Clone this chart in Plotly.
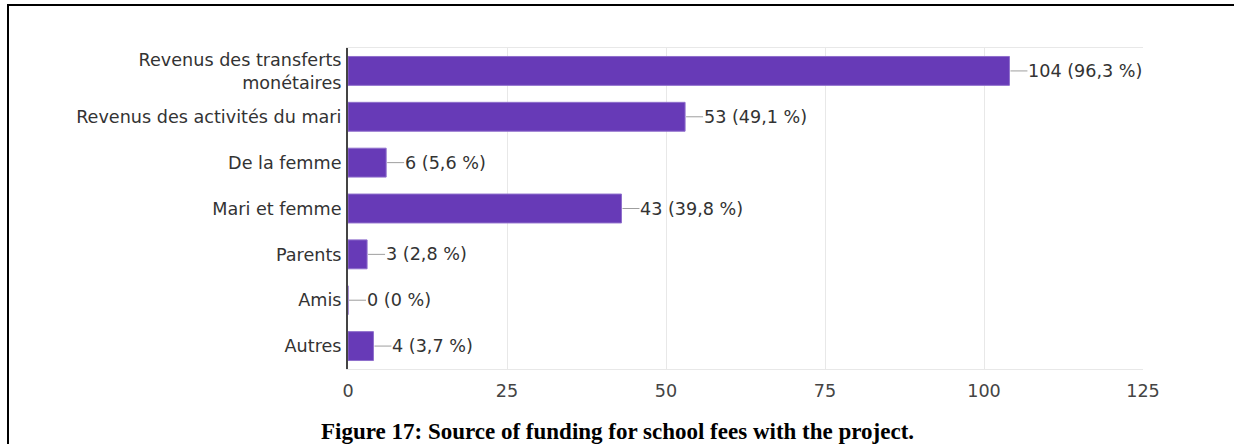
import plotly.graph_objects as go

# Survey answers: where the money for school fees comes from
categories = [
    "Revenus des transferts<br>monétaires",
    "Revenus des activités du mari",
    "De la femme",
    "Mari et femme",
    "Parents",
    "Amis",
    "Autres",
]
counts = [104, 53, 6, 43, 3, 0, 4]
percents = ["96,3", "49,1", "5,6", "39,8", "2,8", "0", "3,7"]
x_ticks = [0, 25, 50, 75, 100, 125]

caption = "Figure 17: Source of funding for school fees with the project."

BAR = "#673ab7"
TEXT = "#333333"
FONT = "DejaVu Sans"
FS = 17.6

W, H = 1234, 444
M_L, M_R, M_T, M_B = 348, 91, 48, 75
PW, PH = W - M_L - M_R, H - M_T - M_B


def px_x(px):
    """Horizontal page pixel -> paper coordinate."""
    return (px - M_L) / PW


def px_y(py):
    """Vertical page pixel (from top) -> paper coordinate."""
    return (H - M_B - py) / PH


positions = list(range(len(categories)))

fig = go.Figure(
    go.Bar(
        x=counts,
        y=positions,
        orientation="h",
        width=0.63,
        marker=dict(color=BAR, line=dict(color="#8f6fcc", width=1)),
        hoverinfo="skip",
    )
)

# value labels with a short leader line from the end of each bar
for pos, n, pct in zip(positions, counts, percents):
    fig.add_shape(
        type="line",
        xref="x", yref="y",
        xsizemode="pixel", xanchor=n,
        x0=1, x1=18, y0=pos, y1=pos,
        line=dict(color="#9e9e9e", width=1),
    )
    fig.add_annotation(
        x=n, y=pos, xref="x", yref="y",
        text=f"{n} ({pct} %)",
        xanchor="left", yanchor="middle",
        xshift=17, showarrow=False,
        font=dict(family=FONT, size=FS, color=TEXT),
    )

# figure caption
fig.add_annotation(
    x=px_x(617), y=px_y(431), xref="paper", yref="paper",
    text=f"<b>{caption}</b>", showarrow=False,
    font=dict(family="Liberation Serif", size=23, color="#000000"),
    xanchor="center", yanchor="middle",
)

# outer frame: top and left rules
fig.add_shape(type="line", xref="paper", yref="paper",
              x0=px_x(7), x1=px_x(W + 2), y0=px_y(5), y1=px_y(5),
              line=dict(color="#000", width=2))
fig.add_shape(type="line", xref="paper", yref="paper",
              x0=px_x(8), x1=px_x(8), y0=px_y(4), y1=px_y(H + 2),
              line=dict(color="#000", width=2))

fig.update_layout(
    width=W, height=H,
    margin=dict(l=M_L, r=M_R, t=M_T, b=M_B),
    paper_bgcolor="white", plot_bgcolor="white",
    showlegend=False,
    font=dict(family=FONT, size=FS, color=TEXT),
    xaxis=dict(
        range=[0, 125], tickvals=x_ticks,
        showgrid=True, gridcolor="#e8e8e8", gridwidth=1,
        zeroline=False, showline=True, mirror=True,
        linecolor="#e8e8e8", linewidth=1,
        ticks="", ticklabelstandoff=6,
        tickfont=dict(family=FONT, size=FS, color="#444444"),
        fixedrange=True,
    ),
    yaxis=dict(
        tickvals=positions, ticktext=categories,
        range=[len(categories) - 0.5, -0.5],
        showgrid=False, zeroline=False,
        showline=True, linecolor="#444444", linewidth=2,
        ticks="", ticklabelstandoff=1,
        tickfont=dict(family=FONT, size=FS, color=TEXT),
        fixedrange=True,
    ),
)

fig.write_html("out.html")
